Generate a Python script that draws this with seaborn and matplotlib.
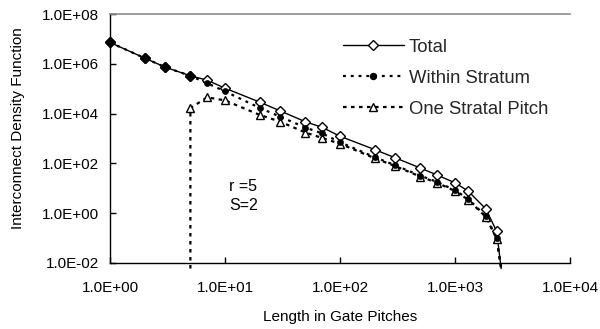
import numpy as np
import pandas as pd
import matplotlib
matplotlib.use("Agg")
import matplotlib.pyplot as plt
from matplotlib.lines import Line2D
from matplotlib.ticker import FixedLocator, FuncFormatter, NullLocator
import seaborn as sns

# ---------------- data ----------------
length_pts = [1, 2, 3, 5, 7, 10, 20, 30, 50, 70, 100, 200, 300, 500, 700, 1000, 1300, 1850, 2300]
total_vals = [7.2e6, 1.7e6, 7.4e5, 3.3e5, 2.2e5, 1.05e5, 2.9e4, 1.3e4, 4.7e3, 2.8e3, 1.23e3,
              3.6e2, 1.7e2, 65, 34, 16.6, 7.8, 1.5, 0.19]
within_vals = [7.2e6, 1.7e6, 7.4e5, 3.3e5, 1.66e5, 7.8e4, 1.7e4, 7.6e3, 2.75e3, 1.6e3, 7.1e2,
               1.78e2, 85, 32, 18, 8.3, 3.8, 0.76, 0.10]
stratal_len = [5, 7, 10, 20, 30, 50, 70, 100, 200, 300, 500, 700, 1000, 1300, 1850, 2300]
stratal_vals = [1.66e4, 4.5e4, 3.4e4, 8.9e3, 4.8e3, 1.74e3, 1.05e3, 6.17e2, 1.62e2, 79, 29.5,
                16.6, 7.8, 3.5, 0.71, 0.095]
# curves fall to ~zero just past the last points (drawn below the axis floor)
end_len = 2520
zero_val = 6e-3
stratal_start = 5

y_ticks = [1e-2, 1e0, 1e2, 1e4, 1e6, 1e8]
x_ticks = [1e0, 1e1, 1e2, 1e3, 1e4]
labels = ["Total", "Within Stratum", "One Stratal Pitch"]

# ---------------- figure ----------------
sns.set_theme(style="white")
plt.rcParams["font.family"] = ["Liberation Sans", "DejaVu Sans"]

fig = plt.figure(figsize=(6.0, 3.29), dpi=100)
ax = fig.add_axes([110 / 600, 1 - 263 / 329, 460 / 600, 249 / 329])

df_total = pd.DataFrame({"x": length_pts + [end_len], "y": total_vals + [zero_val]})
df_within = pd.DataFrame({"x": length_pts + [end_len], "y": within_vals + [zero_val]})
df_strat = pd.DataFrame({"x": [stratal_start] + stratal_len + [end_len],
                         "y": [zero_val] + stratal_vals + [zero_val]})

dash_w = (0, (1.3, 2.2))
dash_s = (0, (1.6, 2.0))

sns.lineplot(data=df_strat, x="x", y="y", ax=ax, sort=False, estimator=None,
             color="black", linewidth=1.6, linestyle=dash_s, clip_on=False)
sns.lineplot(data=df_within, x="x", y="y", ax=ax, sort=False, estimator=None,
             color="black", linewidth=1.6, linestyle=dash_w, clip_on=False)
sns.lineplot(data=df_total, x="x", y="y", ax=ax, sort=False, estimator=None,
             color="black", linewidth=1.0, linestyle="-", clip_on=False)

# markers
mk_total = pd.DataFrame({"x": length_pts, "y": total_vals})
mk_within = pd.DataFrame({"x": length_pts, "y": within_vals})
mk_strat = pd.DataFrame({"x": stratal_len, "y": stratal_vals})

sns.lineplot(data=mk_total, x="x", y="y", ax=ax, sort=False, estimator=None,
             linestyle="", marker="D", markersize=5.3, markerfacecolor="white",
             markeredgecolor="black", markeredgewidth=1.0, clip_on=False, zorder=4)
sns.lineplot(data=mk_strat, x="x", y="y", ax=ax, sort=False, estimator=None,
             linestyle="", marker="^", markersize=6.3, markerfacecolor="white",
             markeredgecolor="black", markeredgewidth=1.0, clip_on=False, zorder=5)
sns.lineplot(data=mk_within, x="x", y="y", ax=ax, sort=False, estimator=None,
             linestyle="", marker="o", markersize=4.3, markerfacecolor="black",
             markeredgecolor="black", markeredgewidth=0.5, clip_on=False, zorder=6)
# where Total and Within coincide, diamonds look solid
same = [i for i in range(len(length_pts)) if total_vals[i] == within_vals[i]]
mk_same = pd.DataFrame({"x": [length_pts[i] for i in same], "y": [total_vals[i] for i in same]})
sns.lineplot(data=mk_same, x="x", y="y", ax=ax, sort=False, estimator=None,
             linestyle="", marker="D", markersize=5.3, markerfacecolor="black",
             markeredgecolor="black", markeredgewidth=1.0, clip_on=False, zorder=7)

ax.set_xscale("log")
ax.set_yscale("log")
ax.set_xlim(1, 1e4)
ax.set_ylim(1e-2, 1e8)

ax.xaxis.set_major_locator(FixedLocator(x_ticks))
ax.yaxis.set_major_locator(FixedLocator(y_ticks))
ax.xaxis.set_minor_locator(NullLocator())
ax.yaxis.set_minor_locator(NullLocator())


def sci(v, pos):
    e = int(round(np.log10(v)))
    return "1.0E%s%02d" % ("+" if e >= 0 else "-", abs(e))


ax.xaxis.set_major_formatter(FuncFormatter(sci))
ax.yaxis.set_major_formatter(FuncFormatter(sci))
ax.tick_params(axis="both", which="major", direction="in", length=4, width=1,
               color="black", labelsize=11, labelcolor="black", left=True, bottom=True)
ax.tick_params(axis="x", pad=13)
ax.tick_params(axis="y", pad=8)

for s in ["left", "bottom"]:
    ax.spines[s].set_color("black")
    ax.spines[s].set_linewidth(1.0)
ax.spines["top"].set_color("#8c8c8c")
ax.spines["top"].set_linewidth(1.2)
ax.spines["right"].set_visible(False)
ax.grid(False)
ax.set_facecolor("white")

ax.set_xlabel("Length in Gate Pitches", fontsize=11, color="black")
ax.set_ylabel("Interconnect Density Function", fontsize=11, color="black")
ax.xaxis.set_label_coords(0.5, -(317 - 263) / 249)
ax.yaxis.set_label_coords((18 - 110) / 460, (263 - 128) / 249)
ax.xaxis.label.set_va("center")
ax.yaxis.label.set_va("center")

handles = [
    Line2D([0], [0], color="black", lw=1.0, ls="-", marker="D", ms=5.3,
           mfc="white", mec="black", mew=1.0),
    Line2D([0], [0], color="black", lw=1.6, ls=dash_w, marker="o", ms=4.3,
           mfc="black", mec="black"),
    Line2D([0], [0], color="black", lw=1.6, ls=dash_s, marker="^", ms=6.3,
           mfc="white", mec="black", mew=1.0),
]
ax.legend(handles, labels, loc="upper left", bbox_to_anchor=(343 / 600, 1 - 38.5 / 329),
          bbox_transform=fig.transFigure, frameon=False, fontsize=13.3, numpoints=1,
          handlelength=3.3, handletextpad=0.25, labelspacing=0.76, borderpad=0,
          borderaxespad=0)

fig.text(229 / 600, 1 - 196 / 329, "r =5\nS=2", fontsize=11.5, ha="left", va="center",
         color="black", linespacing=1.3)

fig.savefig("out.png", dpi=100, facecolor="white")
